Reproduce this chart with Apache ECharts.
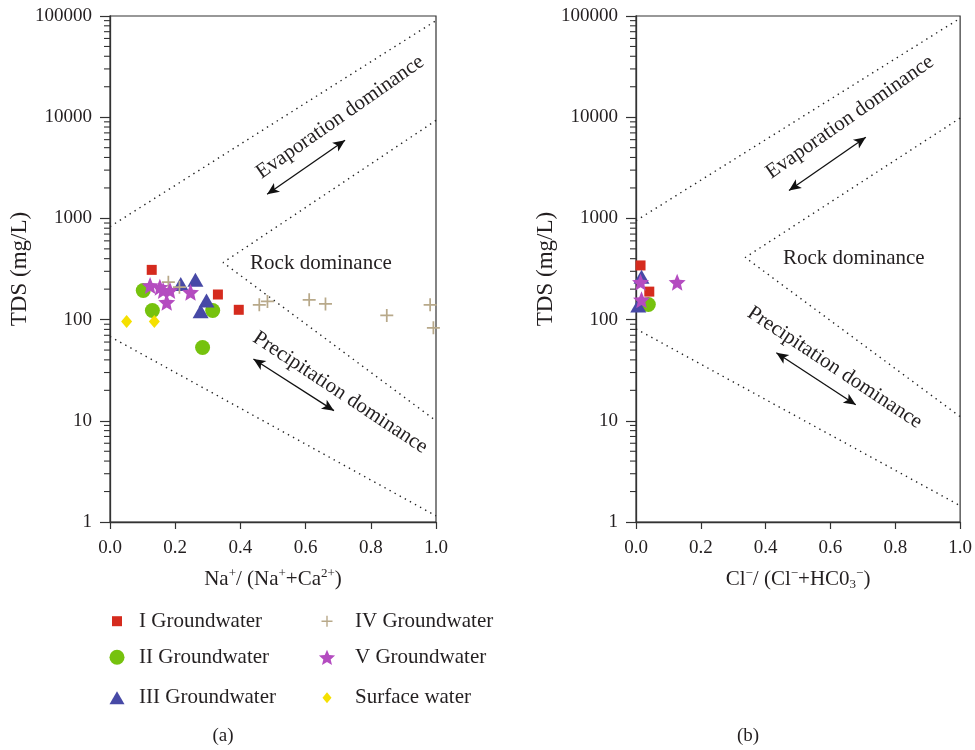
<!DOCTYPE html>
<html>
<head>
<meta charset="utf-8">
<script src="https://cdn.jsdelivr.net/npm/echarts@6/dist/echarts.min.js"></script>
<style>
  html, body { margin: 0; padding: 0; background: #fff; }
  #chart { width: 975px; height: 750px; }
</style>
</head>
<body>
<div id="chart"></div>
<script>
// ---- Sample groups ----
const seriesNames = ['I Groundwater', 'II Groundwater', 'III Groundwater', 'IV Groundwater', 'V Groundwater', 'Surface water'];

// Panel (a): Na+/(Na+ + Ca2+) against TDS (mg/L)
const naGroupI   = [[0.128, 310], [0.331, 177], [0.395, 125]];
const naGroupII  = [[0.102, 194], [0.130, 123], [0.315, 123], [0.284, 53]];
const naGroupIII = [[0.217, 225], [0.262, 247], [0.296, 154], [0.278, 121]];
const naGroupIV  = [[0.179, 234], [0.213, 209], [0.458, 140], [0.483, 151], [0.611, 157], [0.661, 143], [0.849, 110], [0.982, 140], [0.992, 83]];
const naGroupV   = [[0.123, 217], [0.153, 209], [0.163, 194], [0.184, 194], [0.247, 186], [0.174, 148]];
const naSurface  = [[0.051, 96], [0.136, 96]];

// Panel (b): Cl-/(Cl- + HCO3-) against TDS (mg/L)
const clGroupI   = [[0.014, 343], [0.041, 189]];
const clGroupII  = [[0.038, 141]];
const clGroupIII = [[0.017, 265], [0.007, 138]];
const clGroupIV  = [];
const clGroupV   = [[0.014, 234], [0.127, 234], [0.017, 157]];
const clSurface  = [];

// Gibbs boundary lines (x, TDS)
const naUpperOuter = [[0, 830], [1, 90000]];
const naInner      = [[1, 9300], [0.347, 366], [1, 10]];
const naLowerOuter = [[0, 68], [1, 1.15]];
const clUpperOuter = [[0, 950], [1, 95000]];
const clInner      = [[1, 9800], [0.337, 411], [1, 11]];
const clLowerOuter = [[0, 81], [1, 1.45]];

// Zone annotations: [x, TDS, text, rotation]
const naZoneLabels = [[0.706, 10000, 'Evaporation dominance', 35], [0.647, 358, 'Rock dominance', 0], [0.706, 19, 'Precipitation dominance', -33.5]];
const clZoneLabels = [[0.660, 10000, 'Evaporation dominance', 35], [0.672, 402, 'Rock dominance', 0], [0.613, 33.5, 'Precipitation dominance', -33.5]];
// Double-headed arrows: [x1, TDS1, x2, TDS2]
const naArrows = [[0.482, 1730, 0.721, 5910], [0.440, 40.8, 0.687, 12.6]];
const clArrows = [[0.472, 1890, 0.709, 6340], [0.433, 47, 0.678, 14.4]];

// Axis ticks
const yTickValues = [1, 10, 100, 1000, 10000, 100000];
const xTickValues = [0, 0.2, 0.4, 0.6, 0.8, 1.0];
const panelLabels = ['(a)', '(b)'];

const FONT = '"Liberation Serif", "Times New Roman", serif';
const INK = '#231f20';
const colors = ['#d52b1e', '#76c20e', '#4749a6', '#b8a98a', '#b44cc0', '#f5e000'];

const starPath = 'path://M10,0L12.645,6.36L19.511,6.91L14.28,11.39L15.878,18.09L10,14.5L4.122,18.09L5.72,11.39L0.489,6.91L7.355,6.36Z';
const plusPath = 'path://M5.2,0H6.8V5.2H12V6.8H6.8V12H5.2V6.8H0V5.2H5.2Z';
const symbols = ['rect', 'circle', 'triangle', plusPath, starPath, 'diamond'];
const symbolSizes = [10, 15, [16, 14], 13, 17, [11, 13]];

// Legend icons, drawn inside a 20x20 frame so each keeps its own size
const legendIcons = [
  'path://M0,0M20,20M5,5H15V15H5Z',
  'path://M0,0M20,20M2.5,10A7.5,7.5,0,1,0,17.5,10A7.5,7.5,0,1,0,2.5,10Z',
  'path://M0,0M20,20M2.5,16.5L10,3.5L17.5,16.5Z',
  'path://M0,0M20,20M9.3,4.5H10.7V9.3H15.5V10.7H10.7V15.5H9.3V10.7H4.5V9.3H9.3Z',
  'path://M0,0M20,20M10,2.5L12.25,7.9L18.1,8.4L13.65,12.2L15.0,17.9L10,14.8L5.0,17.9L6.35,12.2L1.9,8.4L7.75,7.9Z',
  'path://M0,0M20,20M10,4.5L14.5,10L10,15.5L5.5,10Z'
];

const minorTickValues = [];
for (let k = 0; k < 5; k++) {
  for (let m = 2; m <= 9; m++) minorTickValues.push([0, m * Math.pow(10, k)]);
}

const grids = [
  { left: 110, top: 16, width: 326, height: 506, show: true, borderColor: '#333', borderWidth: 1.2 },
  { left: 636, top: 16, width: 326, height: 506, show: true, borderColor: '#333', borderWidth: 1.2 }
];

function xAxisFor(gi, nameRich) {
  return {
    type: 'value', gridIndex: gi, min: 0, max: 1, interval: 0.2,
    axisLine: { show: true, lineStyle: { color: '#333', width: 1.3 } },
    axisTick: { show: true, inside: false, length: 7, lineStyle: { color: '#333', width: 1.2 } },
    axisLabel: { margin: 17, fontSize: 19, fontFamily: FONT, color: INK,
      formatter: v => xTickValues.some(t => Math.abs(t - v) < 1e-9) ? v.toFixed(1) : '' },
    splitLine: { show: false },
    name: nameRich, nameLocation: 'middle', nameGap: 45,
    nameTextStyle: {
      fontFamily: FONT, color: INK, fontSize: 21,
      rich: {
        n: { fontFamily: FONT, color: INK, fontSize: 21, lineHeight: 24, verticalAlign: 'middle' },
        s: { fontFamily: FONT, color: INK, fontSize: 13, lineHeight: 24, verticalAlign: 'top' },
        b: { fontFamily: FONT, color: INK, fontSize: 13, lineHeight: 24, verticalAlign: 'bottom' }
      }
    }
  };
}

function yAxisFor(gi) {
  return {
    type: 'log', logBase: 10, gridIndex: gi, min: 1, max: 100000,
    axisLine: { show: true, lineStyle: { color: '#333', width: 1.3 } },
    axisTick: { show: true, inside: false, length: 10, lineStyle: { color: '#333', width: 1.2 } },
    axisLabel: { margin: 18, fontSize: 19, fontFamily: FONT, color: INK,
      formatter: v => yTickValues.includes(Math.round(v)) ? String(Math.round(v)) : '' },
    splitLine: { show: false },
    name: 'TDS (mg/L)', nameLocation: 'middle', nameGap: 79,
    nameTextStyle: { fontFamily: FONT, color: INK, fontSize: 23 }
  };
}

function boundarySeries(gi, pts) {
  return {
    type: 'line', xAxisIndex: gi, yAxisIndex: gi, data: pts,
    symbol: 'none', silent: true, z: 1,
    lineStyle: { color: '#222', width: 1.4, type: [1.4, 4.4] }
  };
}

function annotationSeries(gi, labels, arrows) {
  return {
    type: 'scatter', xAxisIndex: gi, yAxisIndex: gi, data: [], silent: true, z: 2,
    markPoint: {
      symbol: 'circle', symbolSize: 0, silent: true,
      data: labels.map(l => ({
        coord: [l[0], l[1]],
        label: { show: true, position: 'inside', formatter: l[2], rotate: l[3],
          fontSize: 21, fontFamily: FONT, color: INK }
      }))
    },
    markLine: {
      silent: true, symbol: ['arrow', 'arrow'], symbolSize: [8, 12],
      label: { show: false },
      lineStyle: { color: '#111', width: 1.3, type: 'solid' },
      data: arrows.map(a => [{ coord: [a[0], a[1]] }, { coord: [a[2], a[3]] }])
    }
  };
}

function minorTickSeries(gi) {
  return {
    type: 'custom', xAxisIndex: gi, yAxisIndex: gi, data: minorTickValues,
    silent: true, clip: false, z: 3,
    encode: { x: 0, y: 1 },
    renderItem: (params, api) => {
      const p = api.coord([0, api.value(1)]);
      return { type: 'line', shape: { x1: p[0] - 6, y1: p[1], x2: p[0], y2: p[1] },
        style: { stroke: '#333', lineWidth: 1.1 } };
    }
  };
}

function groupSeries(gi, groups) {
  return groups.map((d, i) => ({
    name: seriesNames[i], type: 'scatter', xAxisIndex: gi, yAxisIndex: gi,
    data: d, symbol: symbols[i], symbolSize: symbolSizes[i],
    itemStyle: { color: colors[i], opacity: 1 }, z: 5 + i
  }));
}

// legend rows/columns: [column, row]
const legendCols = [{ left: 107, width: 34 }, { left: 317, width: 46 }];
const legendRowCenters = [620.7, 656.7, 697.3];
const legendPlacement = [[0, 0], [0, 1], [0, 2], [1, 0], [1, 1], [1, 2]];

const legends = seriesNames.map((name, i) => {
  const [c, r] = legendPlacement[i];
  return {
    left: legendCols[c].left, top: legendRowCenters[r] - 10, padding: 0,
    orient: 'vertical', selectedMode: false,
    itemWidth: legendCols[c].width, itemHeight: 20,
    data: [{ name: name, icon: legendIcons[i], itemStyle: { color: colors[i] } }],
    textStyle: { fontFamily: FONT, fontSize: 21, color: INK, lineHeight: 20 }
  };
});

const naName = '{n|Na}{s|+}{n|/ (Na}{s|+}{n|+Ca}{s|2+}{n|)}';
const clName = '{n|Cl}{s|\u2212}{n|/ (Cl}{s|\u2212}{n|+HC0}{b|3}{s|\u2212}{n|)}';

const option = {
  backgroundColor: '#fff',
  animation: false,
  grid: grids,
  xAxis: [xAxisFor(0, naName), xAxisFor(1, clName)],
  yAxis: [yAxisFor(0), yAxisFor(1)],
  legend: legends,
  graphic: [
    { type: 'text', x: 223, y: 736, style: { text: panelLabels[0], fontSize: 19, fontFamily: FONT, fill: INK, align: 'center', verticalAlign: 'middle' } },
    { type: 'text', x: 748, y: 736, style: { text: panelLabels[1], fontSize: 19, fontFamily: FONT, fill: INK, align: 'center', verticalAlign: 'middle' } }
  ],
  series: [
    boundarySeries(0, naUpperOuter), boundarySeries(0, naInner), boundarySeries(0, naLowerOuter),
    boundarySeries(1, clUpperOuter), boundarySeries(1, clInner), boundarySeries(1, clLowerOuter),
    annotationSeries(0, naZoneLabels, naArrows),
    annotationSeries(1, clZoneLabels, clArrows),
    minorTickSeries(0), minorTickSeries(1),
    ...groupSeries(0, [naGroupI, naGroupII, naGroupIII, naGroupIV, naGroupV, naSurface]),
    ...groupSeries(1, [clGroupI, clGroupII, clGroupIII, clGroupIV, clGroupV, clSurface])
  ]
};

const chart = echarts.init(document.getElementById('chart'), null, { renderer: 'canvas' });
chart.setOption(option);
</script>
</body>
</html>
